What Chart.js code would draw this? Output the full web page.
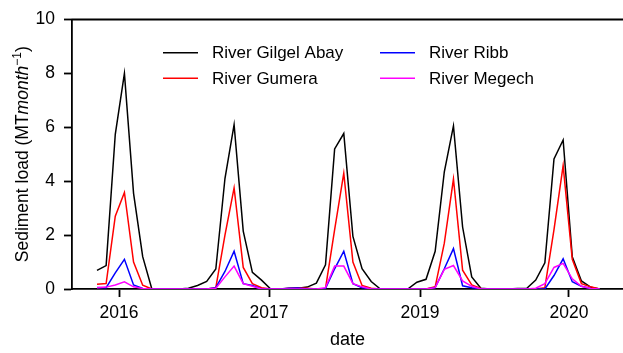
<!DOCTYPE html>
<html><head><meta charset="utf-8">
<script src="https://cdn.jsdelivr.net/npm/chart.js@4"></script>
<style>html,body{margin:0;padding:0;background:#fff;overflow:hidden}</style>
</head><body>
<canvas id="c" width="623" height="353"></canvas>
<script>
// month index of each observation
const months = [0,1,2,3,4,5,6,7,8,9,10,11,12,13,14,15,16,17,18,19,20,21,22,23,24,25,26,27,28,29,30,31,32,33,34,35,36,37,38,39,40,41,42,43,44,45,46,47,48,49,50,51,52,53,54,55];
const gilgelAbay = [0.69,0.87,5.74,8.0,3.55,1.2,0,0,0,0,0.03,0.13,0.28,0.74,4.1,6.1,2.15,0.62,0.33,0,0,0.02,0.03,0.07,0.22,0.9,5.2,5.77,1.95,0.75,0.28,0,0,0,0,0.25,0.36,1.4,4.35,6.05,2.3,0.45,0.03,0,0,0,0.02,0.02,0.33,0.97,4.83,5.53,1.2,0.3,0.07,0];
const gumera = [0.18,0.2,2.7,3.58,1.0,0.14,0,0,0,0,0,0,0,0.05,2.0,3.75,0.8,0.2,0.05,0,0,0.03,0.05,0.03,0,0.02,2.2,4.3,1.0,0.13,0.03,0,0,0,0,0,0,0.08,1.7,4.08,0.7,0.15,0.02,0,0,0,0,0,0,0.05,2.2,4.58,1.1,0.2,0.08,0];
const ribb = [0.06,0.05,0.6,1.1,0.15,0.02,0,0,0,0,0,0,0,0.05,0.65,1.4,0.2,0.13,0,0,0,0.03,0.04,0,0,0.02,0.75,1.4,0.2,0.05,0,0,0,0,0,0,0,0.05,0.75,1.5,0.12,0.05,0,0,0,0,0,0,0,0,0.5,1.12,0.27,0.1,0.02,0];
const megech = [0.05,0.07,0.15,0.27,0.08,0.02,0,0,0,0,0,0,0,0.03,0.45,0.85,0.2,0.1,0,0,0,0,0,0,0,0.05,0.85,0.85,0.2,0.08,0,0,0,0,0,0,0,0.05,0.73,0.87,0.3,0.1,0,0,0,0,0,0,0.03,0.2,0.8,0.95,0.38,0.1,0.02,0];
const seriesNames = ['River Gilgel Abay','River Gumera','River Ribb','River Megech'];
const xTickValues = [2.41, 18.82, 35.34, 51.64];
const xTickLabels = ['2016','2017','2019','2020'];
const yTicks = [0,2,4,6,8,10];

const FONT = "'Liberation Sans', Arial, Helvetica, sans-serif";
const colors = ['#000000','#ff0000','#0000ff','#ff00ff'];
const seriesData = [gilgelAbay, gumera, ribb, megech];

const datasets = seriesData.map((vals, k) => ({
  label: seriesNames[k],
  data: vals.map((v, i) => ({x: months[i], y: v})),
  borderColor: colors[k],
  backgroundColor: colors[k],
  borderWidth: 1.5,
  pointRadius: 0,
  tension: 0,
  fill: false,
  order: 4 - k
}));

const extras = {
  id: 'extras',
  afterDraw(chart) {
    const ctx = chart.ctx;
    const a = chart.chartArea;
    ctx.save();
    // top spine
    ctx.strokeStyle = '#000';
    ctx.lineWidth = 1.8;
    ctx.beginPath();
    ctx.moveTo(a.left - 0.9, a.top);
    ctx.lineTo(a.right, a.top);
    ctx.stroke();

    // legend
    const slots = [[163,52.7],[163,78.3],[380,52.7],[380,78.3]];
    ctx.font = '17px ' + FONT;
    ctx.textBaseline = 'middle';
    ctx.textAlign = 'left';
    chart.data.datasets.forEach((ds, k) => {
      const [lx, ly] = slots[k];
      ctx.strokeStyle = ds.borderColor;
      ctx.lineWidth = 1.6;
      ctx.beginPath();
      ctx.moveTo(lx, ly);
      ctx.lineTo(lx + 35, ly);
      ctx.stroke();
      ctx.fillStyle = '#000';
      ctx.fillText(ds.label, lx + 49, ly + 1);
    });

    // y axis title with italic and superscript parts
    const parts = [
      {t: 'Sediment load (MT', f: '17.5px ' + FONT, dy: 0},
      {t: 'month', f: 'italic 17.5px ' + FONT, dy: 0},
      {t: '\u22121', f: '12px ' + FONT, dy: -7},
      {t: ')', f: '17.5px ' + FONT, dy: 0}
    ];
    let total = 0;
    parts.forEach(p => { ctx.font = p.f; p.w = ctx.measureText(p.t).width; total += p.w; });
    ctx.translate(28, (a.top + a.bottom) / 2);
    ctx.rotate(-Math.PI / 2);
    ctx.textBaseline = 'alphabetic';
    ctx.fillStyle = '#000';
    let x = -total / 2;
    parts.forEach(p => { ctx.font = p.f; ctx.fillText(p.t, x, p.dy); x += p.w; });
    ctx.restore();
  }
};

new Chart(document.getElementById('c'), {
  type: 'line',
  data: { datasets },
  options: {
    responsive: false,
    animation: false,
    devicePixelRatio: 1,
    layout: { padding: { top: 15, right: 0, left: 0, bottom: 0 } },
    plugins: { legend: { display: false }, tooltip: { enabled: false } },
    scales: {
      x: {
        type: 'linear',
        min: -2.735,
        max: 57.55,
        afterBuildTicks(s) { s.ticks = xTickValues.map(v => ({value: v})); },
        afterFit(s) { s.height = 64; },
        ticks: {
          autoSkip: false, maxRotation: 0, color: '#000', padding: 6,
          font: { family: FONT, size: 17.5 },
          callback: (v, i) => xTickLabels[i]
        },
        grid: { display: true, drawOnChartArea: false, drawTicks: true, tickLength: 8, tickWidth: 1.8, tickColor: '#000' },
        border: { display: true, color: '#000', width: 1.8 },
        title: { display: true, text: 'date', color: '#000', font: { family: FONT, size: 18 }, padding: { top: 0, bottom: 2 } }
      },
      y: {
        min: 0, max: 10,
        afterBuildTicks(s) { s.ticks = yTicks.map(v => ({value: v})); },
        afterFit(s) { s.width = 72; },
        ticks: { color: '#000', padding: 9, font: { family: FONT, size: 17.5 } },
        grid: { display: true, drawOnChartArea: false, drawTicks: true, tickLength: 8, tickWidth: 1.8, tickColor: '#000' },
        border: { display: true, color: '#000', width: 1.8 }
      }
    }
  },
  plugins: [extras]
});
</script>
</body></html>
